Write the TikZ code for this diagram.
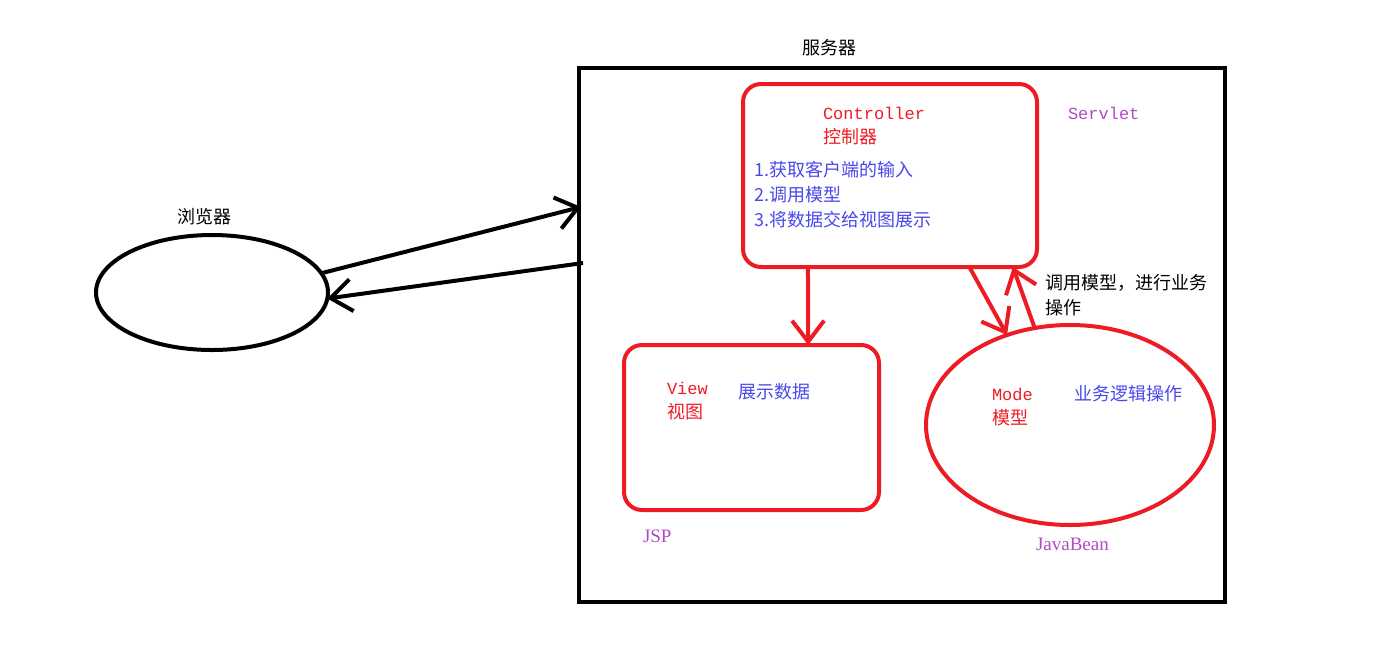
\documentclass[tikz,border=0pt]{standalone}
\usepackage{fontspec}
\setmainfont{Liberation Serif}
\newfontfamily\cjk{Noto Sans CJK SC}
\newfontfamily\mono{Liberation Mono}
\usetikzlibrary{shapes.geometric,arrows.meta,calc}
\definecolor{mvcred}{RGB}{237,28,36}
\definecolor{txtblue}{RGB}{72,72,235}
\definecolor{txtpurple}{RGB}{175,75,195}
\begin{document}
\begin{tikzpicture}[
       x=1pt,y=-1pt,
       line width=4pt,
       arr/.style={-{Straight Barb[length=21pt,width=32pt,line width=4pt]}},
       blackbox/.style={
         draw=black,
         rectangle,
         inner sep=0pt,
         outer sep=0pt
       },
       redbox/.style={
         draw=mvcred,
         rectangle,
         rounded corners=18pt,
         inner sep=0pt,
         outer sep=0pt
       },
       oval/.style={
         ellipse,
         inner sep=0pt,
         outer sep=0pt
       },
       zh/.style={font=\cjk\fontsize{18}{25}\selectfont, inner sep=0pt},
       en/.style={font=\mono\fontsize{17}{25}\selectfont, inner sep=0pt},
       sf/.style={font=\fontsize{19}{25}\selectfont, inner sep=0pt}
     ]
       \useasboundingbox (0,0) rectangle (1373,659);

       % shapes
       \node (server) at (902,335) [blackbox,minimum width=646,minimum height=534]{};
       \node (ctrl) at (890,175.5) [redbox,minimum width=294,minimum height=183]{};
       \node (view) at (751.5,427.5) [redbox,minimum width=255,minimum height=165]{};
       \node (model) at (1070,425) [oval,draw=mvcred,minimum width=288,minimum height=200]{};
       \node (browser) at (212,292.5) [oval,draw=black,minimum width=232,minimum height=115]{};

       % texts
       \node (servertxt) at (829,48) [zh]{服务器};
       \node (browsertxt) at (204,217) [zh]{浏览器};
       \node (ctrlen) at (821,113) [en,anchor=west,text=mvcred]{Controller};
       \node (ctrlzh) at (821,137) [zh,anchor=west,text=mvcred]{控制器};
       \node (ctrllist) at (752,195) [zh,anchor=west,align=left,text=txtblue]{1.获取客户端的输入\\2.调用模型\\3.将数据交给视图展示};
       \node (servlet) at (1066,113) [en,anchor=west,text=txtpurple]{Servlet};
       \node (viewen) at (665,388) [en,anchor=west,text=mvcred]{View};
       \node (viewzh) at (665,412) [zh,anchor=west,text=mvcred]{视图};
       \node (viewtxt) at (736,392) [zh,anchor=west,text=txtblue]{展示数据};
       \node (jsp) at (641,536) [sf,anchor=west,text=txtpurple]{JSP};
       \node (modelen) at (990,394) [en,anchor=west,text=mvcred]{Mode};
       \node (modelzh) at (990,418) [zh,anchor=west,text=mvcred]{模型};
       \node (modeltxt) at (1072,394) [zh,anchor=west,text=txtblue]{业务逻辑操作};
       \node (bean) at (1034,544) [sf,anchor=west,text=txtpurple]{JavaBean};
       \node (calltxt) at (1043,295.5) [zh,anchor=west,align=left]{调用模型，进行业务\\操作};

       % connectors
       \coordinate (req) at (581,207);
       \coordinate (resp) at (583,263);
       \draw[arr] (browser.10) -- (req);
       \draw[arr] (resp) -- (browser.-3);
       \draw[arr,mvcred] ($(ctrl.south west)!0.221!(ctrl.south east)$) -- ($(view.north west)!0.722!(view.north east)$);
       \draw[arr,mvcred] ($(ctrl.south west)!0.77!(ctrl.south east)$) -- (model.125);
       \draw[arr,mvcred] (model.110) -- ($(ctrl.south west)!0.918!(ctrl.south east)$);

\end{tikzpicture}
\end{document}
